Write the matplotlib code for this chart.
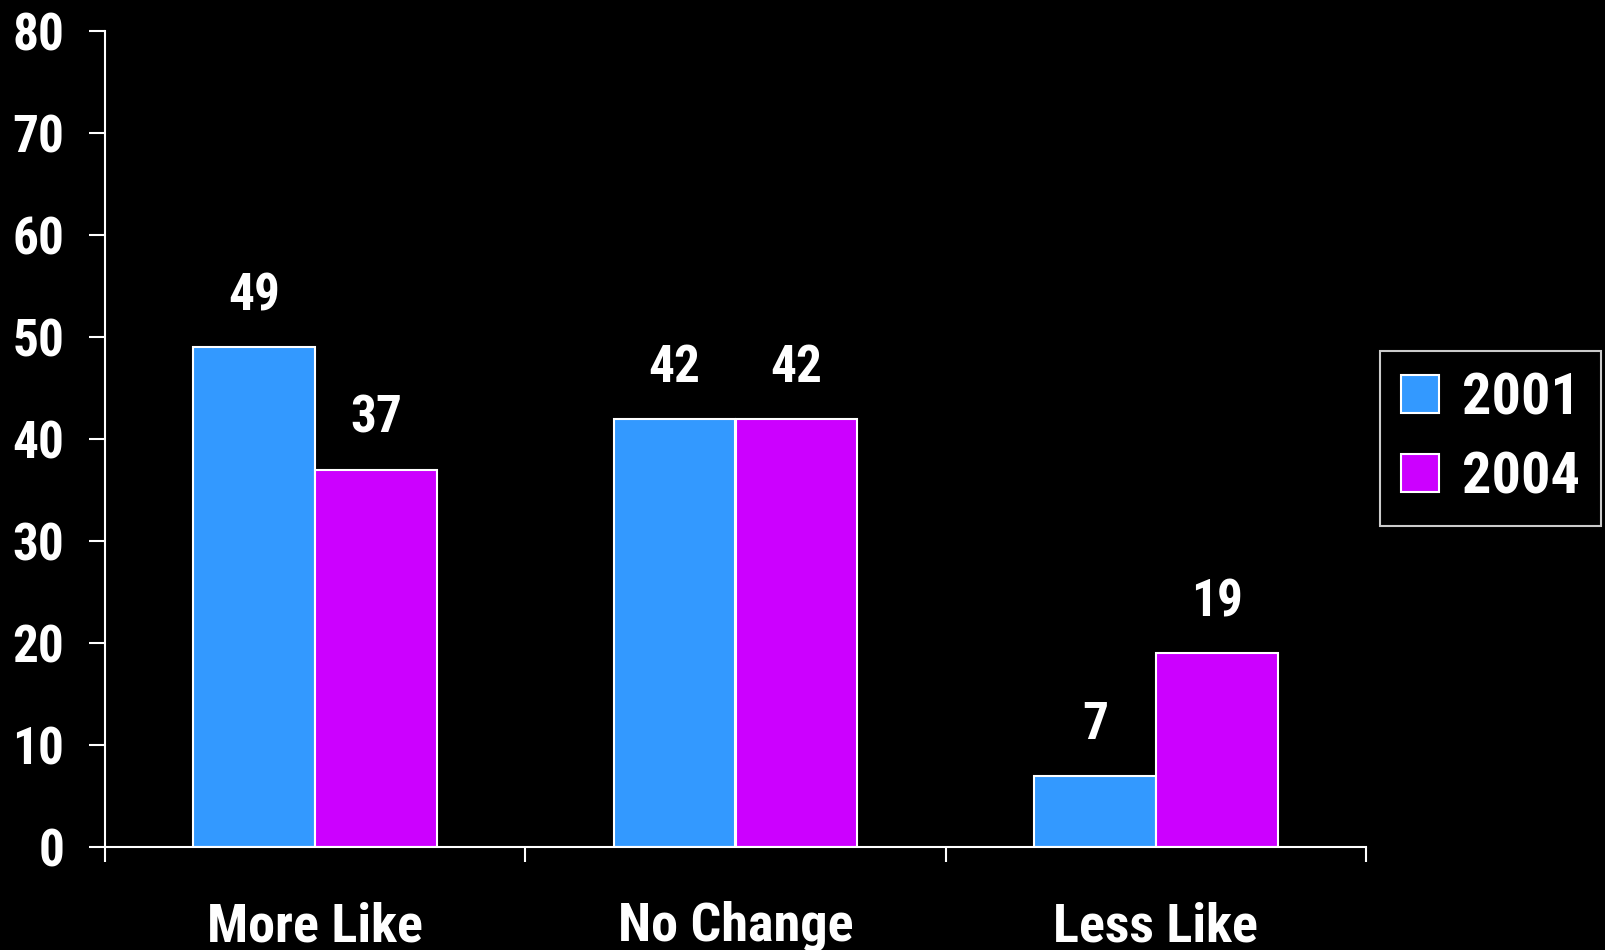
import matplotlib
matplotlib.use("Agg")
import matplotlib.pyplot as plt
import numpy as np

categories = ["More Like", "No Change", "Less Like"]
series_names = ["2001", "2004"]
values_2001 = [49, 42, 7]
values_2004 = [37, 42, 19]
yticks = [0, 10, 20, 30, 40, 50, 60, 70, 80]

colors = ["#3399FF", "#CC00FF"]
plt.rcParams['font.family'] = ['Roboto Condensed', 'Liberation Sans', 'DejaVu Sans']
plt.rcParams['font.weight'] = 'bold'

fig = plt.figure(figsize=(16.05, 9.5), dpi=100, facecolor="black")
ax = fig.add_axes([105/1605, 1-847/950, (1366-105)/1605, (847-31)/950])
ax.set_facecolor("black")

x = np.arange(len(categories))
w = 0.29
b1 = ax.bar(x - w/2, values_2001, w, color=colors[0], edgecolor="white", linewidth=1.5, label=series_names[0])
b2 = ax.bar(x + w/2, values_2004, w, color=colors[1], edgecolor="white", linewidth=1.5, label=series_names[1])

for bars, vals in ((b1, values_2001), (b2, values_2004)):
    for r, v in zip(bars, vals):
        ax.annotate(str(v), (r.get_x() + r.get_width()/2, v), xytext=(0, 18.5), textcoords="offset points",
                    ha="center", va="bottom", color="white", fontsize=37, fontweight="bold")

ax.set_xlim(-0.5, 2.5)
ax.set_ylim(0, 80)
ax.set_yticks(yticks)
ax.set_yticklabels([str(t) for t in yticks], fontsize=37, color="white", fontweight="bold")
ax.set_xticks([-0.5, 0.5, 1.5, 2.5])
ax.set_xticklabels([])
ax.set_xticks(x, minor=True)
ax.set_xticklabels(categories, minor=True, fontsize=39, color="white", fontweight="bold")
ax.tick_params(axis="x", which="minor", length=0, pad=39)
ax.tick_params(axis="x", which="major", length=11, width=1.5, color="white", direction="out")
ax.tick_params(axis="y", length=11.5, width=1.5, color="white", direction="out", pad=18)

for s in ["top", "right"]:
    ax.spines[s].set_visible(False)
for s in ["left", "bottom"]:
    ax.spines[s].set_color("white")
    ax.spines[s].set_linewidth(1.5)

leg = fig.legend(handles=[b1, b2], labels=series_names, loc="upper right",
                 bbox_to_anchor=(1601/1605, 1-351/950),
                 fontsize=42, frameon=True, facecolor="black", edgecolor="white",
                 handlelength=0.66, handleheight=0.62, handletextpad=0.4, labelspacing=0.42,
                 borderpad=0.35, borderaxespad=0, fancybox=False, labelcolor="white")
leg.get_frame().set_linewidth(1.5)
for t in leg.get_texts():
    t.set_fontweight("bold")

fig.savefig("out.png", dpi=100, facecolor="black")
